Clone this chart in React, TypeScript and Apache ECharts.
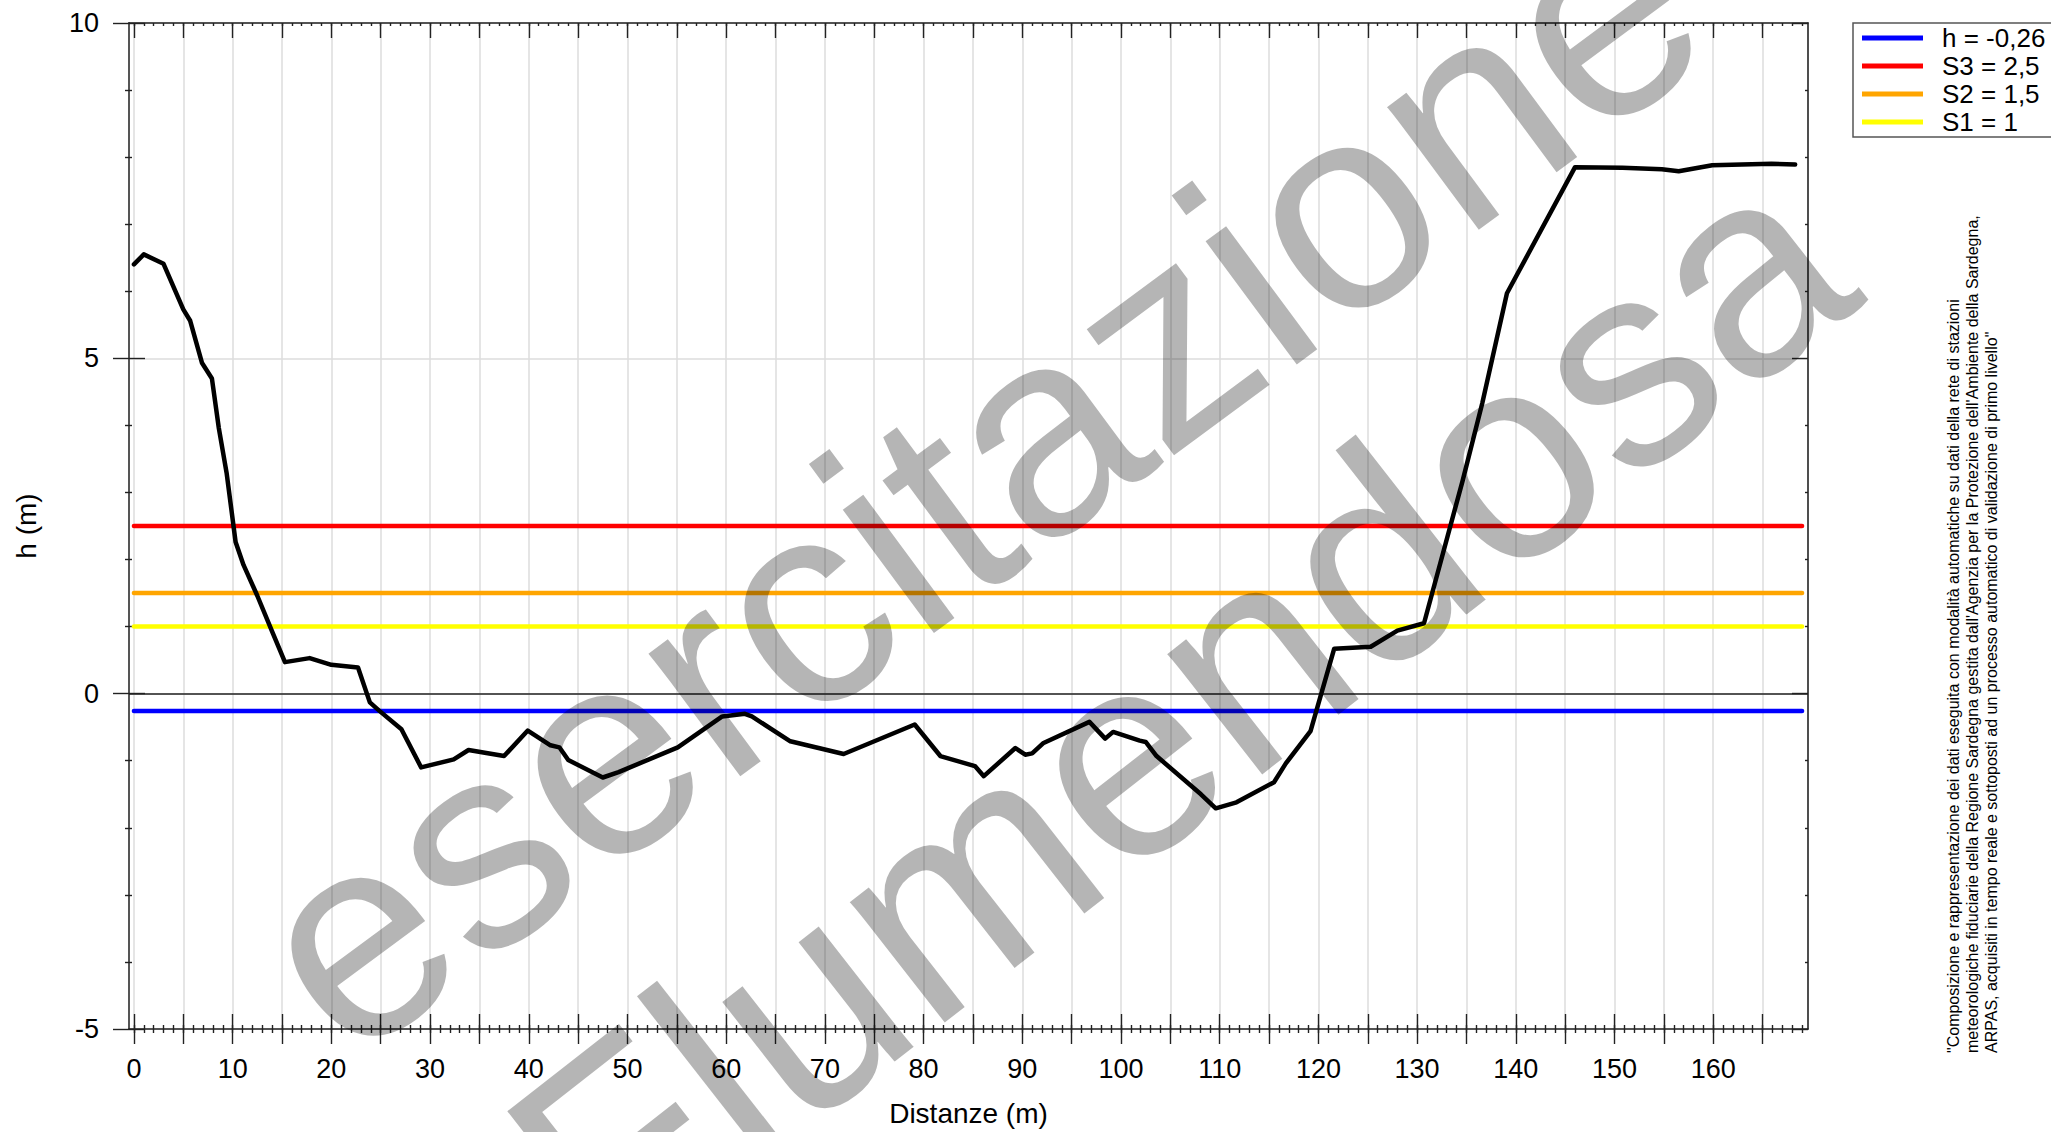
import React, { useEffect, useRef } from "react";
import * as echarts from "echarts";

// Cross-section profile (distance in m, height in m)
const distances = [
  0, 1.0, 3.0, 5.0, 5.7, 6.9, 7.9, 8.6, 9.4, 10.3, 11.1, 12.5, 14.1, 15.3, 17.8,
  20.0, 22.7, 23.9, 24.9, 27.1, 29.1, 32.4, 33.9, 37.5, 39.9, 42.2, 43.1, 44.0,
  47.5, 49.1, 55.1, 59.6, 61.9, 62.6, 66.5, 71.9, 79.1, 81.7, 85.2, 86.1, 89.3,
  90.3, 91.0, 92.1, 96.8, 98.4, 99.2, 101.9, 102.5, 103.6, 108.1, 109.6, 111.7,
  115.5, 116.7, 119.2, 121.6, 125.3, 128.0, 130.7, 134.6, 136.6, 139.1, 146.0,
  150.8, 154.8, 156.5, 159.9, 165.9, 168.3,
];
const heights = [
  6.4, 6.55, 6.41, 5.73, 5.56, 4.93, 4.7, 3.96, 3.28, 2.26, 1.92, 1.46, 0.89, 0.47,
  0.53, 0.43, 0.39, -0.13, -0.26, -0.53, -1.1, -0.98, -0.84, -0.93, -0.55, -0.77,
  -0.8, -0.99, -1.25, -1.17, -0.8, -0.34, -0.3, -0.34, -0.71, -0.9, -0.46, -0.93,
  -1.08, -1.23, -0.81, -0.91, -0.89, -0.74, -0.42, -0.67, -0.57, -0.7, -0.72,
  -0.93, -1.5, -1.71, -1.62, -1.32, -1.04, -0.56, 0.67, 0.7, 0.94, 1.05, 3.17,
  4.33, 5.97, 7.85, 7.84, 7.82, 7.79, 7.88, 7.9, 7.89,
];

// Threshold levels
const thresholdNames = ["h = -0,26", "S3 = 2,5", "S2 = 1,5", "S1 = 1"];
const thresholdValues = [-0.26, 2.5, 1.5, 1];
const thresholdColors = ["#0000ff", "#ff0000", "#ffa500", "#ffff00"];
const thresholdFrom = 0;
const thresholdTo = 169;

// Axis ticks / labels
const xLabelValues = [0, 10, 20, 30, 40, 50, 60, 70, 80, 90, 100, 110, 120, 130, 140, 150, 160];
const xMajorTicks = [0, 5, 10, 15, 20, 25, 30, 35, 40, 45, 50, 55, 60, 65, 70, 75, 80, 85, 90, 95, 100, 105, 110, 115, 120, 125, 130, 135, 140, 145, 150, 155, 160, 165];
const xMinorTicks = Array.from({ length: 170 }, (_, i) => i);
const xMin = -0.5;
const xMax = 169.6;
const yMin = -5;
const yMax = 10;
const yStep = 5;

const xTitle = "Distanze (m)";
const yTitle = "h (m)";
const watermark1 = "esercitazione";
const watermark2 = "Flumendosa";
const footnote = [
  "\"Composizione e rappresentazione dei dati eseguita con modalità automatiche su dati della rete di stazioni",
  "meteorologiche fiduciarie della Regione Sardegna gestita dall'Agenzia per la Protezione dell'Ambiente della Sardegna,",
  "ARPAS, acquisiti in tempo reale e sottoposti ad un processo automatico di validazione di primo livello\"",
];

const FONT = '"Liberation Sans", Arial, sans-serif';

export default function App() {
  const ref = useRef<HTMLDivElement>(null);

  useEffect(() => {
    if (!ref.current) return;
    const chart = echarts.init(ref.current, null, { renderer: "svg" });

    const baseX = {
      type: "value",
      min: xMin,
      max: xMax,
      axisLine: { show: false, onZero: false },
      axisLabel: { show: false },
      splitLine: { show: false },
      axisTick: { show: false },
    };
    const tickStyle = { color: "#222", width: 1.4 };

    const xAxis: any[] = [
      {
        ...baseX,
        position: "bottom",
        name: xTitle,
        nameLocation: "middle",
        nameGap: 70,
        nameTextStyle: { fontFamily: FONT, fontSize: 28, color: "#000" },
        axisLine: { show: true, onZero: false, lineStyle: { color: "#222", width: 1.6 } },
        axisLabel: {
          show: true,
          customValues: xLabelValues,
          margin: 26,
          fontFamily: FONT,
          fontSize: 27,
          color: "#000",
        },
        axisTick: { show: true, customValues: xMajorTicks, inside: false, length: 15, lineStyle: tickStyle },
        splitLine: { show: true, lineStyle: { color: "#dcdcdc", width: 1.5 } },
      },
      {
        ...baseX,
        position: "bottom",
        axisTick: { show: true, customValues: xMajorTicks, inside: true, length: 15, lineStyle: tickStyle },
      },
      {
        ...baseX,
        position: "bottom",
        axisTick: { show: true, customValues: xMinorTicks, inside: false, length: 4, lineStyle: tickStyle },
      },
      {
        ...baseX,
        position: "bottom",
        axisTick: { show: true, customValues: xMinorTicks, inside: true, length: 4, lineStyle: tickStyle },
      },
      {
        ...baseX,
        position: "top",
        axisLine: { show: true, onZero: false, lineStyle: { color: "#222", width: 1.6 } },
        axisTick: { show: true, customValues: xMajorTicks, inside: true, length: 15, lineStyle: tickStyle },
      },
      {
        ...baseX,
        position: "top",
        axisTick: { show: true, customValues: xMinorTicks, inside: true, length: 3, lineStyle: tickStyle },
      },
    ];

    const baseY = {
      type: "value",
      min: yMin,
      max: yMax,
      interval: yStep,
      axisLine: { show: false, onZero: false },
      axisLabel: { show: false },
      splitLine: { show: false },
    };

    const yAxis: any[] = [
      {
        ...baseY,
        position: "left",
        name: yTitle,
        nameLocation: "middle",
        nameRotate: 90,
        nameGap: 89,
        nameTextStyle: { fontFamily: FONT, fontSize: 28, color: "#000" },
        axisLine: { show: true, onZero: false, lineStyle: { color: "#555", width: 2 } },
        axisLabel: { show: true, margin: 30, fontFamily: FONT, fontSize: 27, color: "#000" },
        axisTick: { show: true, inside: false, length: 16, lineStyle: tickStyle },
        minorTick: { show: true, splitNumber: 5, length: 4, lineStyle: tickStyle },
        splitLine: { show: true, lineStyle: { color: "#dcdcdc", width: 1.5 } },
      },
      {
        ...baseY,
        position: "left",
        axisTick: { show: true, inside: true, length: 16, lineStyle: tickStyle },
        minorTick: { show: true, splitNumber: 5, length: 3, lineStyle: tickStyle },
      },
      {
        ...baseY,
        position: "right",
        axisLine: { show: true, onZero: false, lineStyle: { color: "#222", width: 1.6 } },
        axisTick: { show: true, inside: true, length: 16, lineStyle: tickStyle },
        minorTick: { show: true, splitNumber: 5, length: 3, lineStyle: tickStyle },
      },
    ];

    const thresholdSeries = thresholdNames.map((name, i) => ({
      name,
      type: "line",
      xAxisIndex: 0,
      yAxisIndex: 0,
      data: [
        [thresholdFrom, thresholdValues[i]],
        [thresholdTo, thresholdValues[i]],
      ],
      symbol: "none",
      silent: true,
      z: 3,
      itemStyle: { color: thresholdColors[i] },
      lineStyle: { color: thresholdColors[i], width: 4.5, cap: "round" },
    }));

    const profileSeries = {
      name: "profilo",
      type: "line",
      xAxisIndex: 0,
      yAxisIndex: 0,
      data: distances.map((d, i) => [d, heights[i]]),
      symbol: "none",
      silent: true,
      z: 5,
      lineStyle: { color: "#000", width: 4.5, join: "round", cap: "round" },
      markLine: {
        silent: true,
        symbol: "none",
        label: { show: false },
        lineStyle: { color: "#222", width: 1.5, type: "solid" },
        data: [{ yAxis: 0 }],
        z: 2,
      },
    };

    const rot1 = (36.5 * Math.PI) / 180;
    const rot2 = (38 * Math.PI) / 180;

    chart.setOption({
      animation: false,
      backgroundColor: "#fff",
      grid: { left: 129, right: 243, top: 23, bottom: 100, containLabel: false },
      xAxis,
      yAxis,
      legend: {
        data: thresholdNames,
        orient: "vertical",
        left: 1853,
        top: 23,
        icon: "rect",
        itemWidth: 61,
        itemHeight: 5,
        itemGap: 0,
        padding: [1, 60, 1, 9],
        borderColor: "#555",
        borderWidth: 1.5,
        selectedMode: false,
        textStyle: { fontFamily: FONT, fontSize: 26, color: "#000", lineHeight: 28, padding: [0, 0, 0, 14] },
      },
      graphic: [
        {
          type: "text",
          x: 1943.5,
          y: 1053,
          rotation: Math.PI / 2,
          z: 50,
          style: {
            text: footnote.join("\n"),
            fontFamily: FONT,
            fontSize: 16,
            lineHeight: 19,
            fill: "#000",
            align: "left",
            verticalAlign: "top",
          },
        },
        {
          type: "text",
          x: 975,
          y: 477,
          rotation: rot1,
          z: 100,
          silent: true,
          style: {
            text: watermark1,
            fontFamily: FONT,
            fontSize: 290,
            fill: "rgba(0,0,0,0.29)",
            align: "center",
            verticalAlign: "middle",
          },
        },
        {
          type: "text",
          x: 1178,
          y: 712,
          rotation: rot2,
          z: 100,
          silent: true,
          style: {
            text: watermark2,
            fontFamily: FONT,
            fontSize: 290,
            fill: "rgba(0,0,0,0.29)",
            align: "center",
            verticalAlign: "middle",
          },
        },
      ],
      series: [...thresholdSeries, profileSeries],
    });

    return () => chart.dispose();
  }, []);

  return (
    <div
      ref={ref}
      style={{ position: "fixed", left: 0, top: 0, width: 2051, height: 1132, background: "#fff" }}
    />
  );
}
